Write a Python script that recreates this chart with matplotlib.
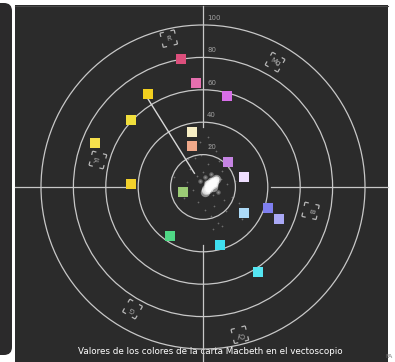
import numpy as np
import matplotlib.pyplot as plt
from matplotlib.patches import FancyBboxPatch, Rectangle, Circle
from matplotlib.collections import LineCollection

# Macbeth chart patches on the vectorscope (u, v in percent of full scale)
patch_u = [-13.6, -4.3, 14.8, -34.0, -44.4, -66.7, -44.4, -6.8, -6.8,
           15.4, 25.3, -12.3, 40.1, 46.9, 25.3, -20.4, 10.5, 34.0]
patch_v = [79.0, 64.2, 56.2, 57.4, 41.4, 27.2, 1.9, 34.0, 25.3,
           15.4, 6.2, -3.1, -13.0, -19.8, -16.0, -30.2, -35.8, -52.5]
patch_colors = ['#dc4f7c', '#e56fae', '#d76ee8', '#f2cf1f', '#f1df3c', '#f6e04c',
                '#f2d12c', '#f7eec4', '#f1a98a', '#c584e3', '#efdfff', '#9ccc76',
                '#7f7ff0', '#aaa9f6', '#acdaf7', '#4fd886', '#3fdff0', '#55e6f2']

# colour targets: angle (deg), magnitude (%), label
target_ang = [103, 60, 347.5, 284, 240, 165.6]
target_mag = [94, 89, 68, 94, 87, 67]
target_lbl = ['R', 'Mg', 'B', 'Cy', 'G', 'Yl']

rings = [20, 40, 60, 80, 100]

# skin tone line (angle, start, end)
skin_ang, skin_r0, skin_r1 = 122, 10, 67

# luminance noise near the centre (u, v)
noise_u = [2, 4, 5, 3, 6, 1, 7, 4, 2, 5, 8, 3, -2, 9, 0, 6, -4, 11, -6, 13,
           -8, 3, 7, -3, 15, 10, -10, 1, 12, -1, 18, 5, -12, 8, 20, 14, 22, -5, 9, 4,
           -15, 24, -2, 16, 6, -18, 28, 12, -9, 3]
noise_v = [1, 3, 5, -1, 2, 6, 4, 0, 3, 8, 1, -2, 4, -3, 9, -5, 7, 5, -2, -8,
           11, 14, -12, -9, 2, 16, 3, -14, 10, 20, -6, -18, -7, 22, 4, -15, -10, 18, -22, 26,
           -4, -20, 28, 12, -26, 6, -28, -24, 17, 31]

# bright core of the trace
blob_u = [1, 2, 3, 4, 5, 6, 7, 8, 3, 5, 6, 2, 4, 7]
blob_v = [-3, -2, -1, 0, 1, 2, 4, 5, 1, 3, 0, -1, 2, 3]

s = 1.62              # pixels per percent
cx, cy = 203, 187     # centre in pixels
W, H = 395, 362

fig = plt.figure(figsize=(W / 100, H / 100), dpi=100)
fig.patch.set_facecolor('white')

bg = fig.add_axes([0, 0, 1, 1])
bg.set_xlim(0, W)
bg.set_ylim(H, 0)
bg.axis('off')
bg.add_patch(FancyBboxPatch((-20, 3), 32, 352, boxstyle='round,pad=0,rounding_size=8',
                            fc='#2b2a2b', ec='none'))
bg.add_patch(Rectangle((15, 5), 373, 360, fc='#2b2b2b', ec='none'))
bg.plot([15, 388], [5.5, 5.5], color='#4a4a4a', lw=0.8)
bg.text(210, 352, 'Valores de los colores de la carta Macbeth en el vectoscopio',
        color='white', fontsize=6.3, ha='center', va='center')
bg.text(385, 356, 'FA', color='#777777', fontsize=4.5, ha='left', va='center')

ax = fig.add_axes([0, 0, 1, 1])
ax.set_xlim(-cx / s, (W - cx) / s)
ax.set_ylim(-(H - cy) / s, cy / s)
ax.patch.set_alpha(0)
ax.axis('off')

ring_col = '#c8c8c8'
for r in rings:
    ax.add_patch(Circle((0, 0), r, fill=False, ec=ring_col, lw=0.9))
    ax.text(2.5, r + 4.5, str(r), color='#a0a0a0', fontsize=5, ha='left', va='center')

# crosshair (broken around the middle)
ax.plot([0, 0], [37, 112], color=ring_col, lw=0.9)
ax.plot([0, 0], [-36, -112], color=ring_col, lw=0.9)
ax.plot([-116, -46], [0, 0], color=ring_col, lw=0.9)
ax.plot([42, 114], [0, 0], color=ring_col, lw=0.9)

# skin tone line
a = np.radians(skin_ang)
ax.plot([skin_r0 * np.cos(a), skin_r1 * np.cos(a)],
        [skin_r0 * np.sin(a), skin_r1 * np.sin(a)], color='#d8d8d8', lw=1.0)

# noise
ax.scatter(noise_u, noise_v, s=1.5, color='#9a9a9a', alpha=0.6, lw=0)
ax.scatter(noise_u[:14], noise_v[:14], s=10, color='#dddddd', alpha=0.35, lw=0)
ax.scatter(blob_u, blob_v, s=45, color='white', alpha=0.45, lw=0)
ax.scatter(blob_u[2:10], blob_v[2:10], s=20, color='white', alpha=0.8, lw=0)

# targets
h, c = 4.5, 2.4
for ang, mag, lbl in zip(target_ang, target_mag, target_lbl):
    t = np.radians(ang)
    tx, ty = mag * np.cos(t), mag * np.sin(t)
    rot = t - np.pi / 2
    R = np.array([[np.cos(rot), -np.sin(rot)], [np.sin(rot), np.cos(rot)]])
    segs = []
    for sx in (-1, 1):
        for sy in (-1, 1):
            p = np.array([sx * h, sy * h])
            for q in (np.array([sx * (h - c), sy * h]), np.array([sx * h, sy * (h - c)])):
                segs.append([R @ p + [tx, ty], R @ q + [tx, ty]])
    ax.add_collection(LineCollection(segs, colors='#b8b8b8', linewidths=0.9))
    ax.text(tx, ty, lbl, color='#b8b8b8', fontsize=5, ha='center', va='center',
            rotation=ang - 90, rotation_mode='anchor')

# colour patches
ax.scatter(patch_u, patch_v, s=52, marker='s', c=patch_colors, lw=0, zorder=5)

fig.savefig('out.png', dpi=100)
